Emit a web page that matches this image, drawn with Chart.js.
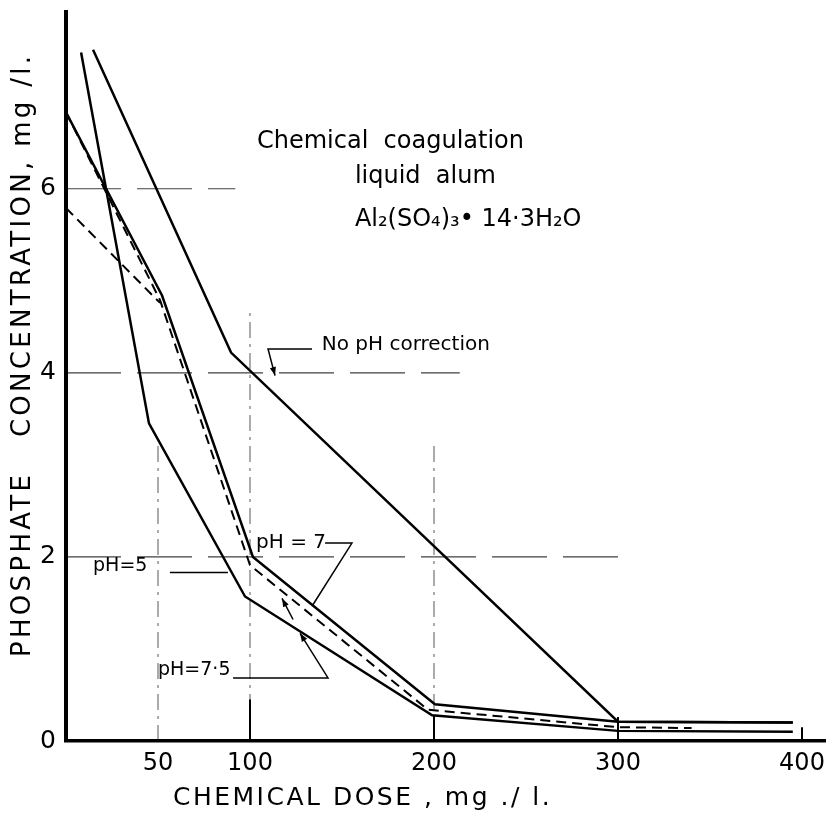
<!DOCTYPE html>
<html>
<head>
<meta charset="utf-8">
<title>Phosphate concentration vs chemical dose</title>
<script src="https://cdn.jsdelivr.net/npm/chart.js@4.4.1/dist/chart.umd.min.js"></script>
<style>
    html, body { margin: 0; padding: 0; background: #fff; }
    #wrap { width: 833px; height: 817px; position: relative; }
</style>
</head>
<body>
<div id="wrap"><canvas id="phosChart"></canvas></div>
<script>
// chart values (dose in mg/l, phosphate in mg/l)
const noCorrDose = [14.7, 89.7, 300, 395];
const noCorrConc = [7.51, 4.22, 0.21, 0.20];
const ph7Dose = [0, 52.2, 101.6, 200.5, 300, 395];
const ph7Conc = [6.83, 4.84, 2.0, 0.40, 0.21, 0.20];
const ph75Dose = [8.2, 45.1, 97.3, 199, 300, 395];
const ph75Conc = [7.48, 3.45, 1.57, 0.28, 0.11, 0.10];
const ph5Dose = [0, 51.1, 100, 196.7, 300, 340];
const ph5Conc = [6.83, 4.79, 1.91, 0.34, 0.15, 0.14];
const ph5StartDose = [0, 51.1];
const ph5StartConc = [5.79, 4.76];

const xTicks = [50, 100, 200, 300, 400];
const yTicks = [0, 2, 4, 6];

// broken guide lines, in data units
const hGuides = [{ y: 6, to: 92 }, { y: 4, to: 214 }, { y: 2, to: 304 }];
const vGuides = [{ x: 50, to: 3.25 }, { x: 100, to: 4.65 }, { x: 200, to: 3.25 }];
const tickMarks = [{ x: 100, to: 0.45 }, { x: 200, to: 0.28 }, { x: 300, to: 0.26 }, { x: 400, to: 0.15 }];

// notes on the plot: text and leader lines, in data units
const notes = [
    { text: 'Chemical  coagulation', x: 103.8, y: 6.51, size: 24 },
    { text: 'liquid  alum', x: 157, y: 6.13, size: 24 },
    { text: 'Al\u2082(SO\u2084)\u2083\u2022 14\u00b73H\u2082O', x: 157, y: 5.66, size: 24 },
    { text: 'No pH correction', x: 139, y: 4.30, size: 20 },
    { text: 'pH = 7', x: 103.3, y: 2.15, size: 20 },
    { text: 'pH=5', x: 14.7, y: 1.90, size: 19 },
    { text: 'pH=7\u00b75', x: 50, y: 0.77, size: 19 }
];
const leaders = [
    { pts: [[133.7, 4.26], [109.8, 4.26], [113.6, 3.97]], arrow: true },
    { pts: [[140.8, 2.15], [155.4, 2.15], [134.2, 1.48]], arrow: false },
    { pts: [[56.5, 1.83], [88, 1.83]], arrow: false },
    { pts: [[90.8, 0.685], [142.4, 0.685], [127.2, 1.17]], arrow: true },
    { pts: [[123.4, 1.32], [117.4, 1.55]], arrow: true }
];

function pts(xs, ys) {
    return xs.map((x, i) => ({ x: x, y: ys[i] }));
}

const guidePlugin = {
    id: 'guides',
    beforeDatasetsDraw(chart) {
        const ctx = chart.ctx;
        const xs = chart.scales.x, ys = chart.scales.y;
        ctx.save();
        ctx.strokeStyle = 'rgba(0,0,0,0.75)';
        ctx.lineWidth = 1.2;
        ctx.setLineDash([55, 16]);
        hGuides.forEach(g => {
            ctx.beginPath();
            ctx.moveTo(xs.getPixelForValue(0), ys.getPixelForValue(g.y));
            ctx.lineTo(xs.getPixelForValue(g.to), ys.getPixelForValue(g.y));
            ctx.stroke();
        });
        ctx.strokeStyle = 'rgba(0,0,0,0.55)';
        ctx.setLineDash([16, 6, 3, 6]);
        vGuides.forEach(g => {
            ctx.beginPath();
            ctx.moveTo(xs.getPixelForValue(g.x), ys.getPixelForValue(0));
            ctx.lineTo(xs.getPixelForValue(g.x), ys.getPixelForValue(g.to));
            ctx.stroke();
        });
        ctx.setLineDash([]);
        ctx.strokeStyle = '#000';
        ctx.lineWidth = 2;
        tickMarks.forEach(g => {
            ctx.beginPath();
            ctx.moveTo(xs.getPixelForValue(g.x), ys.getPixelForValue(0));
            ctx.lineTo(xs.getPixelForValue(g.x), ys.getPixelForValue(g.to));
            ctx.stroke();
        });
        ctx.restore();
    },
    afterDatasetsDraw(chart) {
        const ctx = chart.ctx;
        const xs = chart.scales.x, ys = chart.scales.y;
        const area = chart.chartArea;
        ctx.save();
        ctx.fillStyle = '#000';
        ctx.textBaseline = 'middle';
        ctx.textAlign = 'left';
        notes.forEach(n => {
            ctx.font = n.size + 'px "DejaVu Sans"';
            ctx.fillText(n.text, xs.getPixelForValue(n.x), ys.getPixelForValue(n.y));
        });
        ctx.strokeStyle = '#000';
        ctx.lineWidth = 1.5;
        leaders.forEach(l => {
            ctx.beginPath();
            l.pts.forEach((p, i) => {
                const px = xs.getPixelForValue(p[0]), py = ys.getPixelForValue(p[1]);
                if (i === 0) ctx.moveTo(px, py); else ctx.lineTo(px, py);
            });
            ctx.stroke();
            if (!l.arrow) return;
            // small arrow head at the end of the leader
            const a = l.pts[l.pts.length - 2], b = l.pts[l.pts.length - 1];
            const ax = xs.getPixelForValue(a[0]), ay = ys.getPixelForValue(a[1]);
            const bx = xs.getPixelForValue(b[0]), by = ys.getPixelForValue(b[1]);
            const ang = Math.atan2(by - ay, bx - ax);
            ctx.beginPath();
            ctx.moveTo(bx, by);
            ctx.lineTo(bx - 9 * Math.cos(ang - 0.35), by - 9 * Math.sin(ang - 0.35));
            ctx.lineTo(bx - 9 * Math.cos(ang + 0.35), by - 9 * Math.sin(ang + 0.35));
            ctx.closePath();
            ctx.fill();
        });

        // axis titles
        ctx.letterSpacing = '2.5px';
        ctx.font = '25px "DejaVu Sans"';
        ctx.fillText('CHEMICAL DOSE , mg ./ l.', area.left + 107, area.bottom + 57);
        ctx.translate(area.left - 43, area.bottom - 84);
        ctx.rotate(-Math.PI / 2);
        ctx.letterSpacing = '3.3px';
        ctx.font = '26px "DejaVu Sans"';
        ctx.fillText('PHOSPHATE   CONCENTRATION, mg /l.', 0, 0);
        ctx.restore();
    }
};

const solid = { borderColor: '#000', borderWidth: 2.5, pointRadius: 0, tension: 0, fill: false };
const dashed = { borderColor: '#000', borderWidth: 2, borderDash: [10, 6], pointRadius: 0, tension: 0, fill: false };

const ctx = document.getElementById('phosChart').getContext('2d');
const phosChart = new Chart(ctx, {
    type: 'line',
    data: {
        datasets: [
            Object.assign({ label: 'No pH correction', data: pts(noCorrDose, noCorrConc) }, solid),
            Object.assign({ label: 'pH = 7', data: pts(ph7Dose, ph7Conc) }, solid),
            Object.assign({ label: 'pH = 7.5', data: pts(ph75Dose, ph75Conc) }, solid),
            Object.assign({ label: 'pH = 5', data: pts(ph5Dose, ph5Conc) }, dashed),
            Object.assign({ label: 'pH = 5 (start)', data: pts(ph5StartDose, ph5StartConc) }, dashed)
        ]
    },
    options: {
        responsive: true,
        maintainAspectRatio: false,
        animation: false,
        layout: { padding: { left: 0, right: 8, top: 12, bottom: 0 } },
        plugins: {
            legend: { display: false },
            tooltip: { enabled: false }
        },
        scales: {
            x: {
                type: 'linear',
                min: 0,
                max: 412.5,
                afterBuildTicks: function(axis) {
                    axis.ticks = xTicks.map(v => ({ value: v }));
                },
                afterFit: function(axis) {
                    axis.height = 76;
                    axis.paddingLeft = 0;
                    axis.paddingRight = 0;
                },
                grid: { display: false, drawTicks: false },
                border: { display: true, color: '#000', width: 3.5 },
                ticks: {
                    color: '#000',
                    padding: 8,
                    maxRotation: 0,
                    font: { family: 'DejaVu Sans', size: 24 }
                }
            },
            y: {
                type: 'linear',
                min: 0,
                max: 7.92,
                afterBuildTicks: function(axis) {
                    axis.ticks = yTicks.map(v => ({ value: v }));
                },
                afterFit: function(axis) {
                    axis.width = 66;
                    axis.paddingTop = 0;
                    axis.paddingBottom = 0;
                },
                grid: { display: false, drawTicks: false },
                border: { display: true, color: '#000', width: 4 },
                ticks: {
                    color: '#000',
                    padding: 10,
                    font: { family: 'DejaVu Sans', size: 25 }
                }
            }
        }
    },
    plugins: [guidePlugin]
});
</script>
</body>
</html>
